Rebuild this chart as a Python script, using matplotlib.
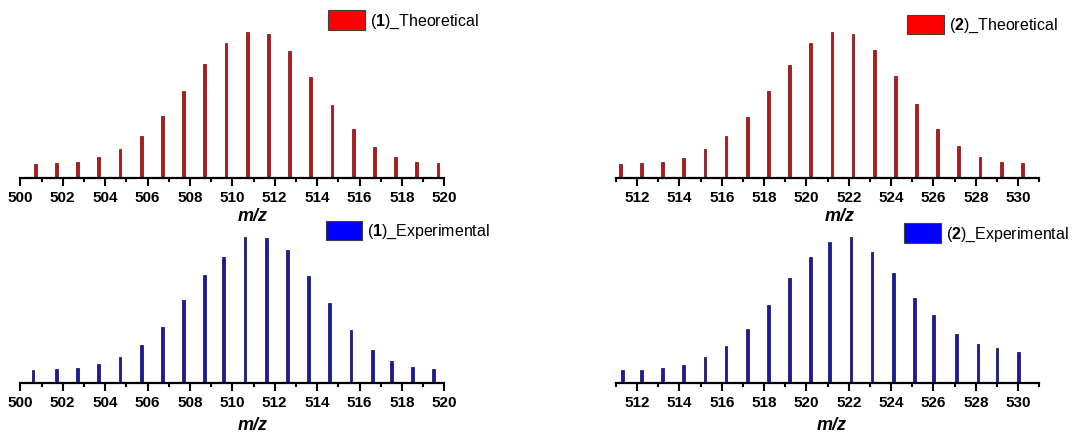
import matplotlib
matplotlib.use("Agg")
import matplotlib.pyplot as plt
from matplotlib.patches import Patch
from matplotlib.ticker import MultipleLocator

plt.rcParams['font.family'] = ['Liberation Sans', 'DejaVu Sans']
plt.rcParams['mathtext.fontset'] = 'custom'
plt.rcParams['mathtext.rm'] = 'Liberation Sans'
plt.rcParams['mathtext.bf'] = 'Liberation Sans:bold'

# ---- data (relative intensities, %) ----
mz1_theo = [500.7, 501.7, 502.7, 503.7, 504.7, 505.7, 506.7, 507.7, 508.7, 509.7,
            510.7, 511.7, 512.7, 513.7, 514.7, 515.7, 516.7, 517.7, 518.7, 519.7]
int1_theo = [9.6, 10.0, 11.2, 14.1, 19.6, 28.9, 42.1, 59.7, 77.9, 92.3,
             100, 98.4, 86.8, 69.0, 50.1, 33.5, 21.4, 14.4, 11.2, 10.0]

mz1_exp = [500.6, 501.7, 502.7, 503.7, 504.7, 505.7, 506.7, 507.7, 508.7, 509.6,
           510.6, 511.6, 512.6, 513.6, 514.6, 515.6, 516.6, 517.5, 518.5, 519.5]
int1_exp = [8.5, 9.2, 10.1, 12.6, 17.4, 25.9, 38.3, 57.1, 74.1, 86.5,
            100, 99.8, 91.1, 73.2, 54.6, 36.5, 22.7, 14.9, 11.0, 9.2]

mz2_theo = [511.2, 512.2, 513.2, 514.2, 515.2, 516.2, 517.2, 518.2, 519.2, 520.2,
            521.2, 522.2, 523.2, 524.2, 525.2, 526.2, 527.2, 528.2, 529.2, 530.2]
int2_theo = [9.6, 10.0, 11.2, 13.9, 19.6, 28.7, 41.9, 59.2, 77.2, 92.3,
             100, 98.6, 87.2, 69.7, 50.6, 33.7, 21.6, 14.6, 11.2, 10.0]

mz2_exp = [511.3, 512.2, 513.2, 514.2, 515.2, 516.2, 517.2, 518.2, 519.2, 520.2,
           521.1, 522.1, 523.1, 524.1, 525.1, 526.0, 527.1, 528.1, 529.0, 530.0]
int2_exp = [8.5, 9.0, 10.1, 12.4, 17.5, 25.5, 37.2, 53.8, 72.0, 86.7,
            96.8, 100, 89.9, 75.4, 58.2, 46.4, 33.6, 26.9, 24.1, 21.1]

labels = [r"($\mathbf{1}$)_Theoretical", r"($\mathbf{2}$)_Theoretical",
          r"($\mathbf{1}$)_Experimental", r"($\mathbf{2}$)_Experimental"]
xlims = [(500, 520), (511, 531), (500, 520), (511, 531)]

W, H = 1092, 436
fig = plt.figure(figsize=(W / 100, H / 100), dpi=100)

def px_axes(x0, x1, ytop, ybase):
    return fig.add_axes([x0 / W, (H - ybase) / H, (x1 - x0) / W, (ybase - ytop) / H])

panels = [
    dict(rect=(20.3, 444.3, 5, 178), mz=mz1_theo, it=int1_theo, peak=146.3,
         bar='#c0141c', edge='#6a0c0c', patch='#ff0000', lab=labels[0],
         xlim=xlims[0], leg=(328, 10.5), xl=(253, 216)),
    dict(rect=(616, 1039.3, 5, 178), mz=mz2_theo, it=int2_theo, peak=146.3,
         bar='#c0141c', edge='#6a0c0c', patch='#ff0000', lab=labels[1],
         xlim=xlims[1], leg=(907, 15), xl=(840, 216)),
    dict(rect=(20.3, 444.3, 220, 382.7), mz=mz1_exp, it=int1_exp, peak=145.3,
         bar='#1a1aa8', edge='#0a0a55', patch='#0000ff', lab=labels[2],
         xlim=xlims[2], leg=(325.7, 220.5), xl=(253, 425)),
    dict(rect=(616, 1039.3, 220, 382.7), mz=mz2_exp, it=int2_exp, peak=145.3,
         bar='#1a1aa8', edge='#0a0a55', patch='#0000ff', lab=labels[3],
         xlim=xlims[3], leg=(904, 223.5), xl=(832, 425)),
]

for p in panels:
    x0, x1, yt, yb = p['rect']
    ax = px_axes(x0, x1, yt, yb)
    ax.bar(p['mz'], p['it'], width=0.13, color=p['bar'], edgecolor=p['edge'],
           linewidth=0.5, zorder=2)
    ax.set_xlim(*p['xlim'])
    ax.set_ylim(0, 100 * (yb - yt) / p['peak'])
    for s in ['top', 'right', 'left']:
        ax.spines[s].set_visible(False)
    ax.spines['bottom'].set_linewidth(1.6)
    ax.set_yticks([])
    ax.xaxis.set_major_locator(MultipleLocator(2))
    ax.xaxis.set_minor_locator(MultipleLocator(1))
    ax.tick_params(axis='x', which='major', length=5.5, width=1.5, direction='out',
                   pad=4, labelsize=11)
    ax.tick_params(axis='x', which='minor', length=2.8, width=1.5, direction='out')
    for t in ax.get_xticklabels():
        t.set_fontweight('bold')
    ax.patch.set_alpha(0)

    # x label
    lx, ly = p['xl']
    fig.text(lx / W, 1 - ly / H, "m/z", ha='center', va='center',
             fontsize=13, fontweight='bold', style='italic')

    # legend
    lgx, lgy = p['leg']
    handle = Patch(facecolor=p['patch'], edgecolor='#404040', linewidth=0.8)
    fig.legend([handle], [p['lab']], loc='upper left',
               bbox_to_anchor=(lgx / W, 1 - lgy / H), frameon=False,
               borderpad=0, borderaxespad=0, handlelength=2.3, handleheight=1.5,
               handletextpad=0.3, fontsize=11.5)

fig.savefig("out.png", dpi=100)
